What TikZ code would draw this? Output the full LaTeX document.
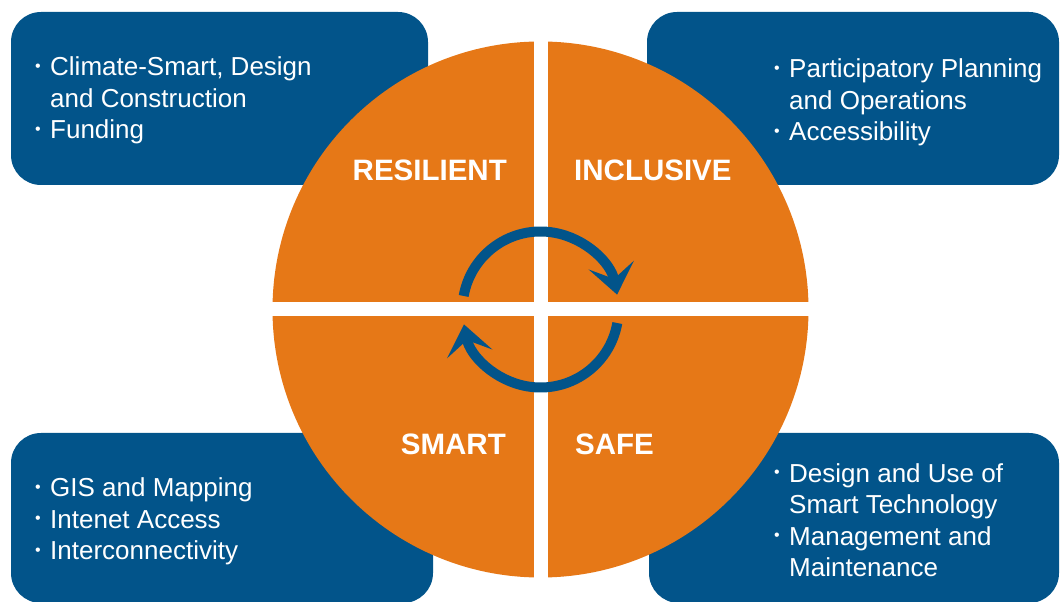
\documentclass[tikz,border=0pt]{standalone}
\usepackage{fontspec}
\setmainfont{Liberation Sans}
\usetikzlibrary{arrows.meta}
\definecolor{PanelBlue}{HTML}{02548A}
\definecolor{CityOrange}{HTML}{E67817}
\newcommand{\bul}{\makebox[15pt][l]{\raisebox{4.5pt}{\fontsize{16}{16}\selectfont\textbullet}}}
\newcommand{\ind}{\hspace*{15pt}}
\begin{document}
\begin{tikzpicture}[x=1pt, y=1pt,
          panel/.style={fill=PanelBlue, rounded corners=30pt},
          listtext/.style={text=white, inner sep=0pt, anchor=base west, align=left, font=\fontsize{26}{31.5}\selectfont},
          quadlabel/.style={text=white, inner sep=0pt, font=\fontsize{29.5}{34}\selectfont\bfseries},
          gap/.style={draw=white, line width=14pt},
          cyclearrow/.style={draw=PanelBlue, line width=10pt, -{Stealth[length=30pt, width=46pt, inset=14pt]}}
        ]
          \useasboundingbox (0,0) rectangle (1060,602);
          % corner panels
          \fill[panel] (11,417) rectangle (428,590);
          \fill[panel] (647,417) rectangle (1059,590);
          \fill[panel] (11,-1) rectangle (433,169);
          \fill[panel] (649,-1) rectangle (1059,169);
          % lists (anchored at the last line)
          \node[listtext] (resilientlist) at (35,463) {\bul Climate-Smart, Design\\\ind and Construction\\\bul Funding};
          \node[listtext] (inclusivelist) at (774,461) {\bul Participatory Planning\\\ind and Operations\\\bul Accessibility};
          \node[listtext] (smartlist) at (35,42) {\bul GIS and Mapping\\\bul Intenet Access\\\bul Interconnectivity};
          \node[listtext] (safelist) at (774,25) {\bul Design and Use of\\\ind Smart Technology\\\bul Management and\\\ind Maintenance};
          % the wheel
          \coordinate (hub) at (540.5,292.5);
          \fill[CityOrange] (hub) circle[radius=268];
          \draw[gap] (540.5,20) -- (540.5,565);
          \draw[gap] (268,292.5) -- (813,292.5);
          \node[quadlabel, anchor=base east] (resilient) at (507,421) {RESILIENT};
          \node[quadlabel, anchor=base west] (inclusive) at (574,421) {INCLUSIVE};
          \node[quadlabel, anchor=base east] (smart) at (506,147) {SMART};
          \node[quadlabel, anchor=base west] (safe) at (575,147) {SAFE};
          % cycle arrows
          \draw[cyclearrow] (hub) ++(170:78) arc[start angle=170, end angle=11, radius=78];
          \draw[cyclearrow] (hub) ++(-10:78) arc[start angle=-10, end angle=-169, radius=78];
        \end{tikzpicture}
\end{document}
